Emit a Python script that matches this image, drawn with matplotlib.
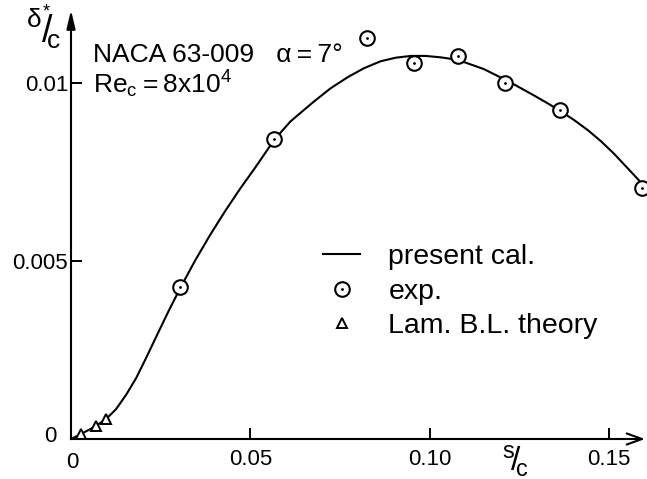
import matplotlib
matplotlib.use('Agg')
import matplotlib.pyplot as plt
from matplotlib.legend_handler import HandlerTuple

plt.rcParams['mathtext.fontset'] = 'custom'
plt.rcParams['mathtext.rm'] = 'Liberation Sans'
plt.rcParams['mathtext.it'] = 'Liberation Sans'

# computed displacement thickness (present calculation)
calc_s = [0.0, 0.00279, 0.00559, 0.00698, 0.00978, 0.01257, 0.01536, 0.01816,
          0.02095, 0.02374, 0.02709, 0.03045, 0.03464, 0.03883, 0.04302,
          0.04721, 0.05140, 0.05670, 0.06117, 0.06760, 0.07235, 0.07709,
          0.08156, 0.08631, 0.09050, 0.09469, 0.09888, 0.10307, 0.10782,
          0.11508, 0.12207, 0.12905, 0.13268, 0.13631, 0.14022, 0.14413,
          0.14777, 0.15140, 0.15475, 0.15810, 0.16034]
calc_d = [0.0, 0.00014, 0.00029, 0.00037, 0.00056, 0.00084, 0.00124, 0.00171,
          0.00228, 0.00287, 0.00357, 0.00424, 0.00502, 0.00574, 0.00641,
          0.00704, 0.00763, 0.00841, 0.00892, 0.00947, 0.00985, 0.01016,
          0.01041, 0.01061, 0.01071, 0.01076, 0.01076, 0.01072, 0.01065,
          0.01039, 0.01004, 0.00965, 0.00944, 0.00922, 0.00896, 0.00867,
          0.00836, 0.00801, 0.00765, 0.00729, 0.00704]

# experiment
exp_s = [0.03045, 0.0567, 0.0824, 0.0955, 0.1078, 0.1209, 0.1363, 0.1592]
exp_d = [0.00427, 0.00843, 0.01126, 0.01056, 0.01076, 0.01000, 0.00924, 0.00705]

# laminar boundary layer theory
lam_s = [0.0028, 0.0070, 0.0098]
lam_d = [0.00014, 0.00037, 0.00056]

xticks = [0.05, 0.10, 0.15]
xticklabels = ['0.05', '0.10', '0.15']
yticks = [0.005, 0.01]
yticklabels = ['0.005', '0.01']

W, H = 647, 479
fig = plt.figure(figsize=(W / 100, H / 100), dpi=100)
ax = fig.add_axes([71 / W, 40 / H, 574 / W, 429 / H])
ax.set_xlim(0, 0.1600)
ax.set_ylim(0, 0.01205)

font = ['Liberation Sans', 'DejaVu Sans']

line, = ax.plot(calc_s, calc_d, color='black', lw=1.5, clip_on=False,
                solid_joinstyle='round')
circ, = ax.plot(exp_s, exp_d, 'o', ms=10.5, mfc='white', mec='black', mew=1.5,
                linestyle='none', clip_on=False)
dot, = ax.plot(exp_s, exp_d, '.', ms=2, color='black', linestyle='none',
               clip_on=False)
tri, = ax.plot(lam_s, lam_d, '^', ms=7, mfc='white', mec='black', mew=1.4,
               linestyle='none', clip_on=False)

# axes drawn as arrows
for s in ax.spines.values():
    s.set_visible(False)
ax.annotate('', xy=(1.0, 0), xytext=(0, 0), xycoords='axes fraction',
            arrowprops=dict(arrowstyle='->, head_length=0.55, head_width=0.2',
                            color='black', lw=1.5, mutation_scale=20,
                            shrinkA=0, shrinkB=0))
ax.annotate('', xy=(0, 1.0), xytext=(0, 0), xycoords='axes fraction',
            arrowprops=dict(arrowstyle='-|>, head_length=0.55, head_width=0.13',
                            color='black', lw=1.5, mutation_scale=20,
                            shrinkA=0, shrinkB=0))

ax.set_xticks(xticks)
ax.set_xticklabels(xticklabels, family=font, fontsize=16)
ax.set_yticks(yticks)
ax.set_yticklabels(yticklabels, family=font, fontsize=16)
ax.tick_params(direction='in', length=8, width=1.4, pad=7)
ax.tick_params(axis='y', pad=2)

# zeros at the origin
fig.text(72 / W, 1 - 462 / H, '0', ha='center', va='center', fontsize=16,
         family=font)
fig.text(50 / W, 1 - 437 / H, '0', ha='center', va='center', fontsize=16,
         family=font)

# axis labels written as fractions
fig.text(44 / W, 1 - 27 / H, r'$^{\delta^{*}}\!\!/\!_{c}$', fontsize=27,
         ha='center', va='center')
fig.text(515 / W, 1 - 461 / H, r'$^{s}\!/\!_{c}$', fontsize=24,
         ha='center', va='center')

fig.text(93 / W, 1 - 62 / H, 'NACA 63-009   α\u2009=\u20097°', fontsize=19,
         family=font, ha='left', va='baseline')
fig.text(93 / W, 1 - 93 / H,
         'Re$_\\mathregular{c}$\u2009=\u20098x10$^\\mathregular{4}$',
         fontsize=19, family=font, ha='left', va='baseline')

leg = ax.legend([line, (circ, dot), tri],
                ['present cal.', 'exp.', 'Lam. B.L. theory'],
                handler_map={tuple: HandlerTuple(ndivide=1)},
                loc='upper left', bbox_to_anchor=(323 / W, 1 - 244 / H),
                bbox_transform=fig.transFigure, frameon=False,
                prop={'family': font, 'size': 20.5}, handlelength=1.3,
                handletextpad=1.0, labelspacing=0.3, borderaxespad=0,
                borderpad=0)

fig.savefig('out.png', dpi=100)
